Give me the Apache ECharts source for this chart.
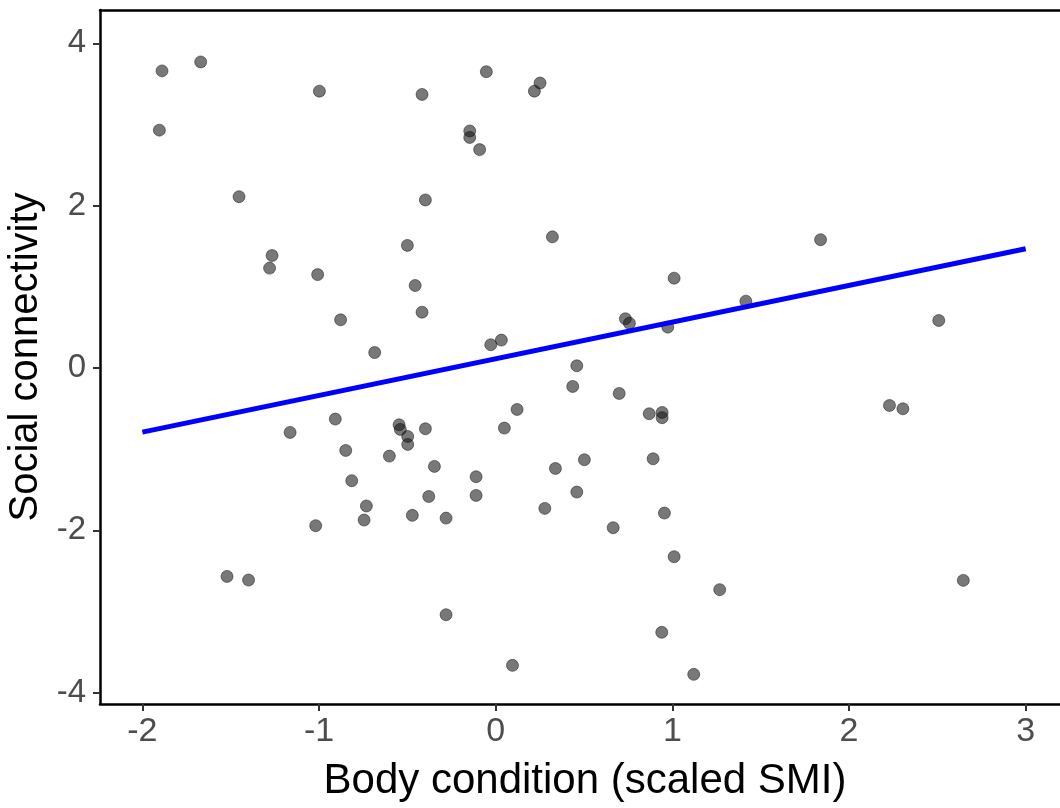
<!DOCTYPE html>
<html>
<head>
<meta charset="utf-8">
<title>Body condition vs social connectivity</title>
<script src="https://cdn.jsdelivr.net/npm/echarts@6/dist/echarts.min.js"></script>
<style>
  html, body { margin: 0; padding: 0; background: #fff; overflow: hidden; }
  #main { width: 1060px; height: 808px; }
</style>
</head>
<body>
<div id="main"></div>
<script>
// body condition (scaled SMI) for each individual
var bodyCondition = [
  -1.889, -1.670, -0.998, -0.417, -1.904, -1.453, -0.398, -1.266, -0.500, -0.053,
   0.251,  0.219, -0.147, -0.147, -0.091,  0.321,  1.839,  2.508, -1.280, -1.008,
  -0.456, -0.417, -0.878, -0.685, -0.908, -1.164, -0.547, -0.540, -0.398, -0.498,
  -0.498, -0.849, -0.602, -0.347, -0.815, -0.379,  1.010,  1.416,  0.734,  0.757,
   0.974,  0.032, -0.028,  0.459,  0.436,  0.699,  0.869,  0.942,  0.942,  0.121,
   0.049,  0.502,  0.891,  0.338, -0.111, -0.111,  0.459, -0.732, -0.745, -0.472,
  -0.281, -1.019, -1.521, -1.399, -0.281,  0.278,  0.665,  0.955,  1.010,  1.268,
   0.940,  0.095,  1.121,  2.229,  2.305,  2.647
];
// social connectivity, same order
var connectivity = [
   3.66,  3.77,  3.41,  3.37,  2.93,  2.11,  2.07,  1.385, 1.51,  3.65,
   3.51,  3.41,  2.92,  2.84,  2.69,  1.615, 1.58,  0.585, 1.23,  1.15,
   1.016, 0.687, 0.593, 0.19, -0.63, -0.794, -0.70, -0.757, -0.749, -0.844,
  -0.942, -1.016, -1.086, -1.213, -1.389, -1.583, 1.106, 0.823, 0.606, 0.552,
   0.503, 0.343, 0.286, 0.027, -0.228, -0.314, -0.564, -0.548, -0.613, -0.511,
  -0.741, -1.131, -1.119, -1.238, -1.340, -1.570, -1.529, -1.70, -1.874, -1.816,
  -1.85, -1.943, -2.568, -2.613, -3.04, -1.73, -1.968, -1.788, -2.325, -2.731,
  -3.257, -3.664, -3.775, -0.462, -0.503, -2.617
];
// fitted line at its two ends
var fitX = [-2, 3];
var fitY = [-0.79, 1.468];

var points = bodyCondition.map(function (x, i) { return [x, connectivity[i]]; });
var fitLine = fitX.map(function (x, i) { return [x, fitY[i]]; });

var fontFamily = "'Liberation Sans', Arial, sans-serif";
// panel is wider than the picture, its right end is cut off like in the original
var xMin = -2.24, xMax = 3.5;

var myChart = echarts.init(document.getElementById('main'));
var option = {
  backgroundColor: '#fff',
  animation: false,
  grid: {
    left: 100,
    top: 10,
    width: 1014,
    height: 694,
    outerBoundsMode: 'none',
    containLabel: false,
    show: false,
    borderWidth: 0
  },
  xAxis: [
    {
      type: 'value',
      min: xMin,
      max: xMax,
      splitNumber: 5,
      splitLine: { show: false },
      axisLine: { show: true, onZero: false, lineStyle: { color: '#000', width: 2.5 } },
      axisTick: { show: true, length: 7, lineStyle: { color: '#333', width: 2 } },
      axisLabel: {
        showMinLabel: false,
        showMaxLabel: false,
        margin: 11,
        color: '#4d4d4d',
        fontSize: 34,
        fontFamily: fontFamily
      },
      name: 'Body condition (scaled SMI)',
      nameLocation: 'middle',
      nameGap: 56,
      nameTextStyle: { color: '#000', fontSize: 42, fontFamily: fontFamily, padding: [0, 44, 0, 0] }
    },
    {
      // top border of the panel only
      type: 'value',
      position: 'top',
      min: xMin,
      max: xMax,
      splitLine: { show: false },
      axisLine: { show: true, onZero: false, lineStyle: { color: '#000', width: 2.5 } },
      axisTick: { show: false },
      axisLabel: { show: false }
    }
  ],
  yAxis: {
    type: 'value',
    min: -4.14,
    max: 4.41,
    splitNumber: 5,
    splitLine: { show: false },
    axisLine: { show: true, onZero: false, lineStyle: { color: '#000', width: 2.5 } },
    axisTick: { show: true, length: 7, lineStyle: { color: '#333', width: 2 } },
    axisLabel: {
      showMinLabel: false,
      showMaxLabel: false,
      margin: 14,
      color: '#4d4d4d',
      fontSize: 33,
      fontFamily: fontFamily
    },
    name: 'Social connectivity',
    nameLocation: 'middle',
    nameGap: 49,
    nameTextStyle: { color: '#000', fontSize: 40, fontFamily: fontFamily }
  },
  series: [
    {
      name: 'individuals',
      type: 'scatter',
      data: points,
      symbolSize: 12,
      itemStyle: {
        color: 'rgba(20,20,20,0.72)',
        borderColor: 'rgba(0,0,0,0.55)',
        borderWidth: 1
      },
      z: 2
    },
    {
      name: 'fit',
      type: 'line',
      data: fitLine,
      showSymbol: false,
      lineStyle: { color: '#0000ff', width: 5 },
      z: 3
    }
  ]
};
option && myChart.setOption(option);
</script>
</body>
</html>
